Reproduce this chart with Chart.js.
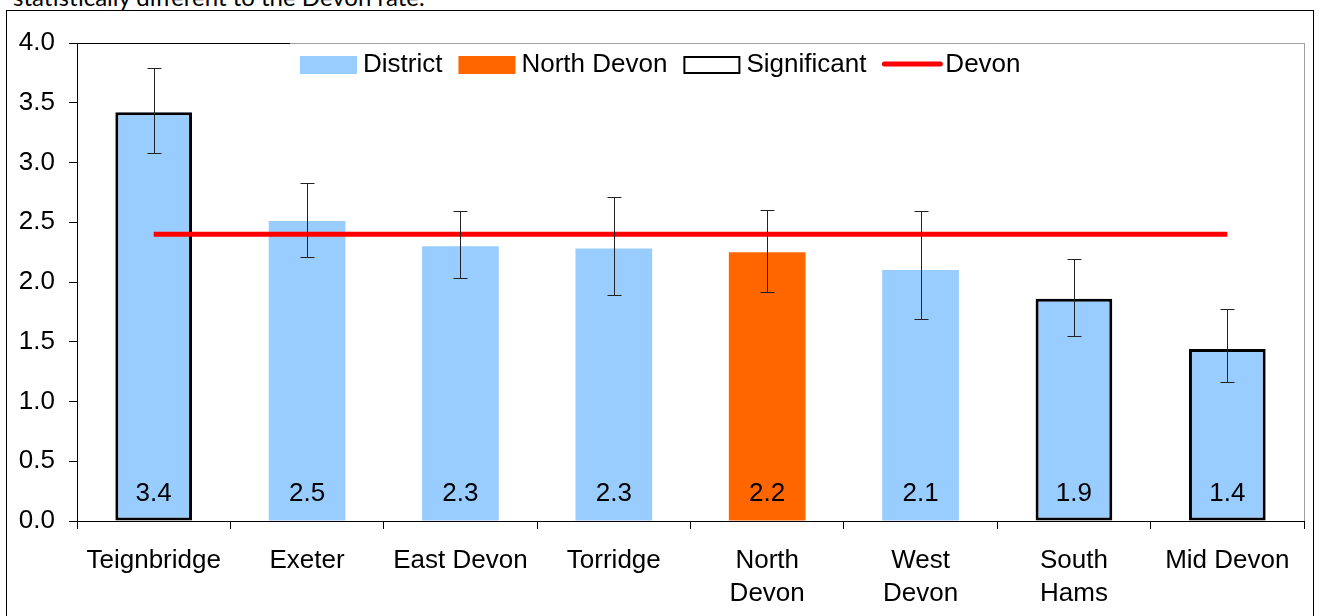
<!DOCTYPE html>
<html>
<head>
<meta charset="utf-8">
<script src="https://cdn.jsdelivr.net/npm/chart.js@4.4.1/dist/chart.umd.min.js"></script>
<style>
  body { margin: 0; background: #fff; overflow: hidden; }
  #wrap { position: relative; width: 1319px; height: 616px; overflow: hidden; }
  #note { position: absolute; left: 13px; top: -15px; font: 24px/24px Lato, sans-serif; color: #000; white-space: nowrap; }
  #frame { position: absolute; left: 6px; top: 10px; width: 1308px; height: 640px; border: 1px solid #000; box-sizing: border-box; }
  canvas { position: absolute; left: 0; top: 0; }
</style>
</head>
<body>
<div id="wrap">
  <div id="note">statistically different to the Devon rate.</div>
  <div id="frame"></div>
  <canvas id="myChart" width="1319" height="616"></canvas>
</div>
<script>
const districts = ['Teignbridge', 'Exeter', 'East Devon', 'Torridge', ['North', 'Devon'], ['West', 'Devon'], ['South', 'Hams'], 'Mid Devon'];
const rates = [3.42, 2.51, 2.30, 2.28, 2.25, 2.10, 1.86, 1.44];
const rateLabels = ['3.4', '2.5', '2.3', '2.3', '2.2', '2.1', '1.9', '1.4'];
const lowerCI = [3.08, 2.21, 2.03, 1.89, 1.92, 1.69, 1.55, 1.16];
const upperCI = [3.79, 2.83, 2.59, 2.71, 2.60, 2.59, 2.19, 1.77];
const significant = [true, false, false, false, false, false, true, true];
const devonRate = 2.4;
const highlight = 4; // North Devon

const BLUE = '#99ccff';
const ORANGE = '#ff6600';
const RED = '#ff0000';
const FONT = '"Liberation Sans", Arial, sans-serif';

const ctx = document.getElementById('myChart');

const extras = {
    id: 'extras',
    afterDatasetsDraw(chart) {
        const c = chart.ctx;
        const y = chart.scales.y;
        const bars = chart.getDatasetMeta(0).data;
        c.save();
        // error bars
        c.strokeStyle = '#222';
        c.lineWidth = 1;
        bars.forEach((bar, i) => {
            const x = Math.round(bar.x) + 0.5;
            const hi = Math.round(y.getPixelForValue(upperCI[i])) + 0.5;
            const lo = Math.round(y.getPixelForValue(lowerCI[i])) + 0.5;
            c.beginPath();
            c.moveTo(x, hi); c.lineTo(x, lo);
            c.moveTo(x - 7, hi); c.lineTo(x + 7, hi);
            c.moveTo(x - 7, lo); c.lineTo(x + 7, lo);
            c.stroke();
        });
        // value labels
        c.fillStyle = '#000';
        c.font = '26px ' + FONT;
        c.textAlign = 'center';
        c.textBaseline = 'middle';
        bars.forEach((bar, i) => {
            c.fillText(rateLabels[i], bar.x, y.getPixelForValue(0) - 27);
        });
        c.restore();
    },
    afterDraw(chart) {
        const c = chart.ctx;
        const a = chart.chartArea;
        c.save();
        // plot top / right border
        c.lineWidth = 1;
        c.strokeStyle = '#a0a0a0';
        c.beginPath();
        c.moveTo(a.left, a.top + 0.5); c.lineTo(a.right + 0.5, a.top + 0.5);
        c.moveTo(a.right + 0.5, a.top); c.lineTo(a.right + 0.5, a.bottom);
        c.stroke();
        c.strokeStyle = '#000';
        c.beginPath();
        c.moveTo(a.left, a.top + 0.5); c.lineTo(290, a.top + 0.5);
        c.stroke();

        // legend
        c.font = '26px ' + FONT;
        c.textBaseline = 'middle';
        c.textAlign = 'left';
        const ly = 65;
        let x = 300;
        const items = [
            { label: 'District', kind: 'box', color: BLUE },
            { label: 'North Devon', kind: 'box', color: ORANGE },
            { label: 'Significant', kind: 'outline' },
            { label: 'Devon', kind: 'line', color: RED }
        ];
        items.forEach(it => {
            if (it.kind === 'box') {
                c.fillStyle = it.color;
                c.fillRect(x, ly - 9, 57, 18);
            } else if (it.kind === 'outline') {
                c.strokeStyle = '#000';
                c.lineWidth = 2;
                c.strokeRect(x + 1, ly - 8, 55, 16);
            } else {
                c.strokeStyle = it.color;
                c.lineWidth = 5;
                c.lineCap = 'round';
                c.beginPath();
                c.moveTo(x + 2, ly - 1); c.lineTo(x + 58, ly - 1);
                c.stroke();
            }
            c.fillStyle = '#000';
            c.fillText(it.label, x + 63, ly);
            x += 63 + c.measureText(it.label).width + 16;
        });
        c.restore();
    }
};

new Chart(ctx, {
    type: 'bar',
    data: {
        labels: districts,
        datasets: [
            {
                label: 'District',
                data: rates,
                backgroundColor: rates.map((v, i) => i === highlight ? ORANGE : BLUE),
                borderColor: '#000',
                borderWidth: significant.map(s => s ? 3 : 0),
                borderSkipped: false,
                barPercentage: 1,
                categoryPercentage: 0.5,
                order: 2
            },
            {
                type: 'line',
                label: 'Devon',
                data: districts.map(() => devonRate),
                borderColor: RED,
                borderWidth: 5,
                pointRadius: 0,
                order: 1
            }
        ]
    },
    options: {
        responsive: false,
        animation: false,
        layout: { padding: { top: 43, right: 15, left: 0, bottom: 0 } },
        plugins: {
            legend: { display: false },
            tooltip: { enabled: false }
        },
        scales: {
            x: {
                grid: { drawOnChartArea: false, tickLength: 8, color: '#000', offset: true },
                border: { color: '#000' },
                ticks: {
                    color: '#000',
                    font: { family: FONT, size: 26, lineHeight: 1.27 },
                    padding: 15,
                    maxRotation: 0,
                    autoSkip: false
                },
                afterFit(s) { s.height = 95; }
            },
            y: {
                min: 0,
                max: 4,
                grid: { drawOnChartArea: false, tickLength: 8, color: '#000' },
                border: { color: '#000' },
                ticks: {
                    stepSize: 0.5,
                    color: '#000',
                    font: { family: FONT, size: 26 },
                    padding: 14,
                    callback: v => v.toFixed(1)
                },
                afterFit(s) { s.width = 77; }
            }
        }
    },
    plugins: [extras]
});
</script>
</body>
</html>
